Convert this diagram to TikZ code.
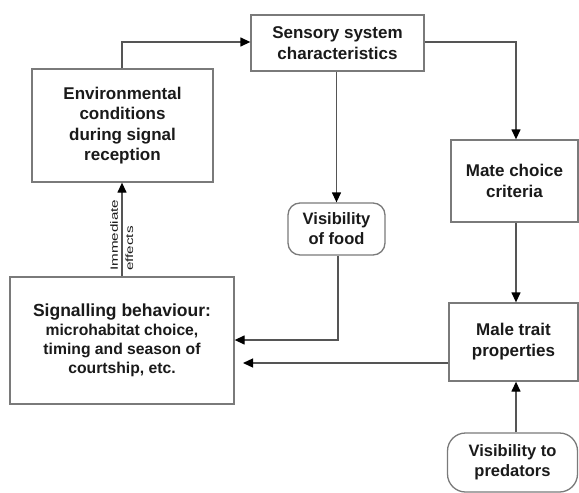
\documentclass[tikz,border=0pt]{standalone}
\usepackage{fontspec}
\setmainfont{Liberation Sans}
\usetikzlibrary{arrows.meta}
\definecolor{boxline}{HTML}{7A7A7A}
\definecolor{txt}{HTML}{1A1A1A}
\definecolor{conn}{HTML}{555555}
\tikzset{
  box/.style={draw=boxline, line width=1.3pt, fill=white, text=txt, align=center,
    inner sep=0pt, font=\bfseries\fontsize{17}{21}\selectfont},
  rbox/.style={box, rounded corners=14pt},
  conn/.style={draw=conn, line width=1.3pt, -{Triangle[length=10pt,width=9pt,color=black]}},
}
\begin{document}
\begin{tikzpicture}[x=1pt,y=-1pt]
\useasboundingbox (0,0) rectangle (579,493);
\node[box, minimum width=173pt, minimum height=56pt] (sens) at (337.5,43) {Sensory system\\characteristics};
\node[box, minimum width=181pt, minimum height=113pt, font=\bfseries\fontsize{17}{20.5}\selectfont] (env) at (122.5,125.5) {Environmental\\conditions\\during signal\\reception};
\node[box, minimum width=127pt, minimum height=82pt] (mate) at (514.5,181) {Mate choice\\criteria};
\node[rbox, minimum width=97pt, minimum height=52pt, rounded corners=12pt, font=\bfseries\fontsize{16.5}{20}\selectfont] (food) at (336.5,229) {Visibility\\of food};
\node[box, minimum width=224pt, minimum height=127pt, font=\bfseries\fontsize{15.7}{19}\selectfont] (sig) at (122,340.5) {{\fontsize{17.5}{19}\selectfont Signalling behaviour:}\\microhabitat choice,\\timing and season of\\courtship, etc.};
\node[box, minimum width=129pt, minimum height=78pt] (male) at (513.5,342) {Male trait\\properties};
\node[rbox, minimum width=130pt, minimum height=59pt, rounded corners=18pt, font=\bfseries\fontsize{16.5}{20}\selectfont] (pred) at (512.5,462.5) {Visibility to\\predators};

\coordinate (a1) at (122,42);
\draw[conn] (env.north -| a1) -- (a1) -- (sens.west |- a1);
\coordinate (a2) at (516,42);
\draw[conn] (sens.east |- a2) -- (a2) -- (mate.north -| a2);
\draw[conn] (sens.south -| food.north) -- (food.north);
\coordinate (a3) at (338,340);
\draw[conn] (food.south -| a3) -- (a3) -- (sig.east |- a3);
\draw[conn] (mate.south -| a2) -- (male.north -| a2);
\draw[conn] (pred.north -| a2) -- (male.south -| a2);
\coordinate (a4) at (243,363);
\draw[conn] (male.west |- a4) -- (a4);
\draw[conn] (sig.north -| a1) -- (env.south -| a1);
\node[rotate=90, anchor=west, inner sep=0pt, text=txt, font=\fontsize{10.5}{10.5}\selectfont] (imm) at (114,271) {\scalebox{1.45}[1]{Immediate}};
\node[rotate=90, anchor=west, inner sep=0pt, text=txt, font=\fontsize{10.5}{10.5}\selectfont] (eff) at (129.5,271) {\scalebox{1.45}[1]{effects}};
\end{tikzpicture}
\end{document}
